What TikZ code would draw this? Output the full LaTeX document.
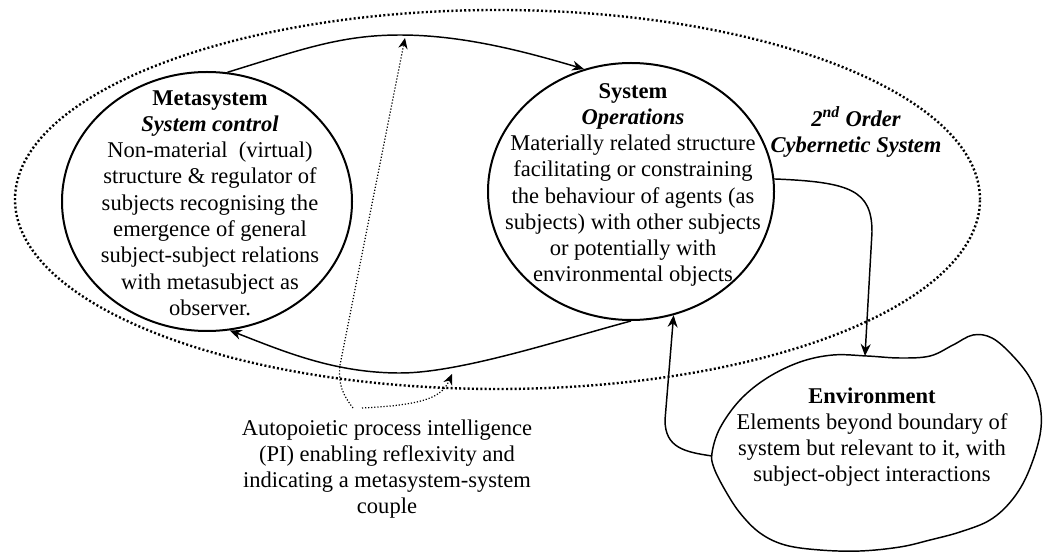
\documentclass[tikz,border=0pt]{standalone}
\usepackage{fontspec}
\setmainfont{Liberation Serif}
\usetikzlibrary{arrows.meta}
\usetikzlibrary{shapes.geometric}

\begin{document}
\begin{tikzpicture}[x=0.75pt, y=-0.75pt,
  ring/.style={ellipse, draw, line width=1.5pt, inner sep=0pt},
  boundary/.style={ellipse, draw, line width=1.8pt, dash pattern=on 1.5pt off 1.7pt},
  flow/.style={-{Stealth[length=9pt, width=7.5pt]}, line width=1.1pt},
  pilink/.style={-{Stealth[length=8pt, width=7pt]}, line width=0.9pt, dash pattern=on 0.9pt off 1.4pt},
  body/.style={align=center, inner sep=0pt, font=\fontsize{16.9}{19.7}\selectfont}]
\useasboundingbox (0,0) rectangle (1043,552);

\node [boundary, minimum width=723.75pt, minimum height=284.25pt] (cyber) at (497.5,199.5) {};
\node [ring, minimum width=217.5pt, minimum height=194.25pt] (meta) at (207,201.5) {};
\node [ring, minimum width=214.5pt, minimum height=192.75pt] (sys) at (631,191.5) {};
\draw [line width=1.1pt] plot [smooth cycle, tension=0.6] coordinates {
  (712,453) (720,428) (740,400) (767,378) (800,362) (833,355) (867,356)
  (900,358) (930,356) (953,345) (973,335) (992,338) (1012,355) (1030,378)
  (1040,405) (1040,435) (1028,473) (1012,500) (990,520) (960,532) (930,540)
  (900,547) (860,551) (820,550) (785,545) (760,533) (740,513) (725,490) (714,468)};

\node [body] (metatext) at (210,203) {\textbf{Metasystem}\\\textbf{\textit{System control}}\\Non-material\ \ (virtual)\\structure \& regulator of\\subjects recognising the\\emergence of general\\subject-subject relations\\with metasubject as\\observer.};
\node [body] (systext) at (633,185) {\textbf{System}\\\textbf{\textit{Operations}}\\Materially related structure\\facilitating or constraining\\the behaviour of agents (as\\subjects) with other subjects\\or potentially with\\environmental objects};
\node [body, font=\fontsize{16.9}{19.7}\selectfont\bfseries\itshape] (cybertext) at (856,132) {2\textsuperscript{nd} Order\\Cybernetic System};
\node [body] (envtext) at (872,437) {\textbf{Environment}\\Elements beyond boundary of\\system but relevant to it, with\\subject-object interactions};
\node [body] (pitext) at (387,469) {Autopoietic process intelligence\\(PI) enabling reflexivity and\\indicating a metasystem-system\\couple};

\coordinate (envtop) at (865,356);
\coordinate (envleft) at (712,456);
\coordinate (pione) at (353,408);
\coordinate (pitwo) at (362,408);
\coordinate (piup) at (405,38);
\coordinate (pilow) at (452,374);

\draw [flow] (meta.81) .. controls (300,50) and (340,35) .. (400,35) .. controls (460,35) and (520,50) .. (sys.111);
\draw [flow] (sys.270) .. controls (560,340) and (460,373) .. (400,373) .. controls (335,373) and (285,352) .. (meta.280);
\draw [flow] (sys.5) .. controls (850,182) and (872,190) .. (872,232) -- (envtop);
\draw [flow] (envleft) .. controls (685,452) and (665,448) .. (665,420) -- (sys.289);
\draw [pilink] (pione) .. controls (343,395) and (338,385) .. (340,365) -- (piup);
\draw [pilink] (pitwo) .. controls (425,405) and (442,397) .. (pilow);
\end{tikzpicture}
\end{document}
